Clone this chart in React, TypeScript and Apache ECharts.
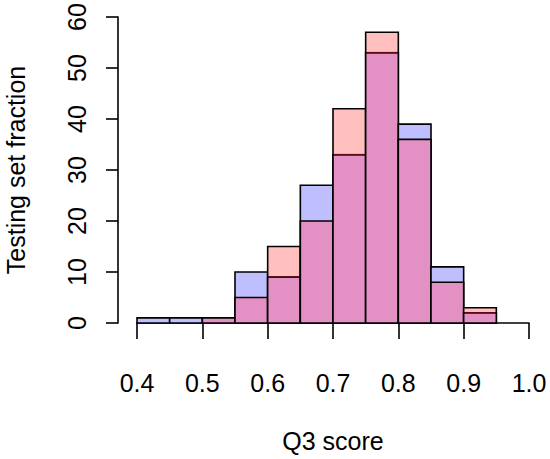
import React, { useEffect, useRef } from "react";
import * as echarts from "echarts";

const binStarts = [0.4, 0.45, 0.5, 0.55, 0.6, 0.65, 0.7, 0.75, 0.8, 0.85, 0.9];
const binWidth = 0.05;
const blueCounts = [1, 1, 1, 10, 9, 27, 33, 53, 39, 11, 2];
const redCounts = [0, 0, 1, 5, 15, 20, 42, 57, 36, 8, 3];
const xAxisTitle = "Q3 score";
const yAxisTitle = "Testing set fraction";

const BLUE = "#BFBFFF";
const RED = "#FFBFBF";
const BOTH = "#E391C4";
const DARKRED = "#5C0A14";
const FONT = "'Liberation Sans', Arial, Helvetica, sans-serif";
const FS = 25;

export default function App() {
  const ref = useRef<HTMLDivElement>(null);
  useEffect(() => {
    if (!ref.current) return;
    const chart = echarts.init(ref.current, undefined, { renderer: "svg" });
    const data = binStarts.map((s, i) => [s, s + binWidth, blueCounts[i], redCounts[i]]);
    const lw = 1.6;
    chart.setOption({
      animation: false,
      backgroundColor: "#ffffff",
      grid: { left: 137, right: 21, top: 17, bottom: 136, containLabel: false, outerBoundsMode: "none" },
      xAxis: {
        type: "value",
        min: 0.4,
        max: 1.0,
        interval: 0.1,
        offset: 12,
        splitLine: { show: false },
        axisLine: { show: true, lineStyle: { color: "#000", width: lw } },
        axisTick: { show: true, length: 16, lineStyle: { color: "#000", width: lw } },
        axisLabel: {
          margin: 35,
          fontSize: FS,
          fontFamily: FONT,
          color: "#000",
          showMinLabel: true,
          showMaxLabel: true,
          formatter: (v: number) => v.toFixed(1),
        },
        name: xAxisTitle,
        nameLocation: "middle",
        nameGap: 93,
        nameTextStyle: { fontSize: FS, fontFamily: FONT, color: "#000" },
      },
      yAxis: {
        type: "value",
        min: 0,
        max: 60,
        interval: 10,
        offset: 19,
        splitLine: { show: false },
        axisLine: { show: true, lineStyle: { color: "#000", width: lw } },
        axisTick: { show: true, length: 12, lineStyle: { color: "#000", width: lw } },
        axisLabel: {
          margin: 29,
          rotate: 90,
          fontSize: FS,
          fontFamily: FONT,
          color: "#000",
          showMinLabel: true,
          showMaxLabel: true,
        },
        name: yAxisTitle,
        nameLocation: "middle",
        nameGap: 90,
        nameTextStyle: { fontSize: FS, fontFamily: FONT, color: "#000" },
      },
      series: [
        {
          type: "custom",
          data,
          encode: { x: [0, 1], y: [2, 3] },
          renderItem: (params: any, api: any) => {
            const x0 = api.value(0);
            const x1 = api.value(1);
            const b = api.value(2);
            const r = api.value(3);
            const hi = Math.max(b, r);
            const lo = Math.min(b, r);
            const base = api.coord([x0, 0]);
            const right = api.coord([x1, 0]);
            const topHi = api.coord([x0, hi]);
            const topLo = api.coord([x0, lo]);
            const w = right[0] - base[0];
            const children: any[] = [];
            if (hi > lo) {
              children.push({
                type: "rect",
                shape: { x: base[0], y: topHi[1], width: w, height: base[1] - topHi[1] },
                style: { fill: b > r ? BLUE : RED, stroke: "#000", lineWidth: lw },
              });
            }
            if (lo > 0) {
              children.push({
                type: "rect",
                shape: { x: base[0], y: topLo[1], width: w, height: base[1] - topLo[1] },
                style: { fill: BOTH, stroke: "#000", lineWidth: lw },
              });
              if (r > b) {
                children.push({
                  type: "line",
                  shape: { x1: base[0] + 1, y1: topLo[1], x2: right[0] - 1, y2: topLo[1] },
                  style: { stroke: DARKRED, lineWidth: lw },
                });
              }
            }
            return { type: "group", children };
          },
        },
      ],
    });
    return () => chart.dispose();
  }, []);
  return (
    <div
      ref={ref}
      style={{ position: "fixed", left: 0, top: 0, width: 550, height: 459, background: "#fff" }}
    />
  );
}
